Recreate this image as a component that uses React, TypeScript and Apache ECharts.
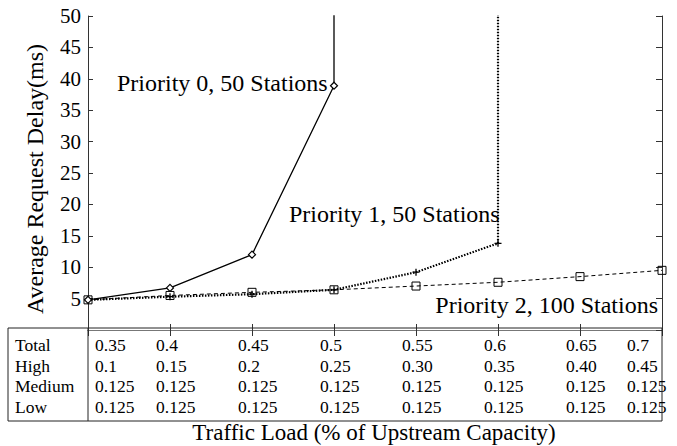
import React, { useEffect, useRef } from "react";
import * as echarts from "echarts";

const xTicks = [0.35, 0.4, 0.45, 0.5, 0.55, 0.6, 0.65, 0.7];
const p0X = [0.35, 0.4, 0.45, 0.5, 0.5];
const p0Y = [4.8, 6.7, 12.0, 38.9, 60];
const p1X = [0.35, 0.4, 0.45, 0.5, 0.55, 0.6, 0.6];
const p1Y = [4.8, 5.3, 5.7, 6.4, 9.2, 13.8, 60];
const p2X = [0.35, 0.4, 0.45, 0.5, 0.55, 0.6, 0.65, 0.7];
const p2Y = [4.8, 5.5, 6.0, 6.4, 7.0, 7.6, 8.5, 9.5];

const rowNames = ["Total", "High", "Medium", "Low"];
const totalRow = ["0.35", "0.4", "0.45", "0.5", "0.55", "0.6", "0.65", "0.7"];
const highRow = ["0.1", "0.15", "0.2", "0.25", "0.30", "0.35", "0.40", "0.45"];
const mediumRow = ["0.125", "0.125", "0.125", "0.125", "0.125", "0.125", "0.125", "0.125"];
const lowRow = ["0.125", "0.125", "0.125", "0.125", "0.125", "0.125", "0.125", "0.125"];

const seriesLabels = ["Priority 0, 50 Stations", "Priority 1, 50 Stations", "Priority 2, 100 Stations"];
const yTitle = "Average Request Delay(ms)";
const xTitle = "Traffic Load (% of Upstream Capacity)";

const FONT = '"Liberation Serif", "DejaVu Serif", serif';

export default function App() {
  const ref = useRef<HTMLDivElement>(null);
  useEffect(() => {
    const chart = echarts.init(ref.current!, null, { renderer: "svg" });
    const mk = (xs: number[], ys: number[], lastNone: boolean) =>
      xs.map((x, i) =>
        lastNone && i === xs.length - 1 ? { value: [x, ys[i]], symbol: "none" } : { value: [x, ys[i]] }
      );
    const axisLine = { show: true, lineStyle: { color: "#333", width: 1 } };
    const option: any = {
      animation: false,
      backgroundColor: "#fff",
      grid: { left: 88, right: 15, top: 16, bottom: 116 },
      xAxis: [
        {
          type: "value", min: 0.35, max: 0.7, interval: 0.05, position: "bottom",
          axisLine, axisTick: { show: true, inside: true, length: 6, lineStyle: { color: "#333" } },
          axisLabel: { show: false }, splitLine: { show: false },
        },
        {
          type: "value", min: 0.35, max: 0.7, interval: 0.05, position: "top",
          axisLine: { show: true, lineStyle: { color: "#777", width: 1 } },
          axisTick: { show: true, inside: true, length: 6, lineStyle: { color: "#333" } },
          axisLabel: { show: false }, splitLine: { show: false },
        },
      ],
      yAxis: [
        {
          type: "value", min: 0, max: 50, interval: 5, position: "left",
          axisLine, axisTick: { show: true, inside: true, length: 5, lineStyle: { color: "#333" } },
          axisLabel: { show: true, showMinLabel: false, fontFamily: FONT, fontSize: 21, color: "#000", margin: 7 },
          splitLine: { show: false },
        },
        {
          type: "value", min: 0, max: 50, interval: 5, position: "right",
          axisLine, axisTick: { show: true, inside: true, length: 6, lineStyle: { color: "#333" } },
          axisLabel: { show: false }, splitLine: { show: false },
        },
      ],
      series: [
        {
          type: "line", data: mk(p0X, p0Y, true), symbol: "diamond", symbolSize: 7,
          lineStyle: { color: "#000", width: 1.3 },
          itemStyle: { color: "#fff", borderColor: "#000", borderWidth: 1.2 }, clip: true, z: 3,
        },
        {
          type: "line", data: mk(p1X, p1Y, true), symbol: "path://M0,5L10,5M5,0L5,10", symbolSize: 7,
          lineStyle: { color: "#000", width: 2.2, type: [1.5, 1.5] },
          itemStyle: { color: "none", borderColor: "#000", borderWidth: 1.3 }, clip: true, z: 2,
        },
        {
          type: "line", data: mk(p2X, p2Y, false), symbol: "rect", symbolSize: 8,
          lineStyle: { color: "#000", width: 1, type: [4, 3] },
          itemStyle: { color: "none", borderColor: "#000", borderWidth: 1 }, clip: false, z: 2,
        },
      ],
    };
    chart.setOption(option);

    const rows = [totalRow, highRow, mediumRow, lowRow];
    const rowY = [345, 366, 386, 407];
    const graphic: any[] = [
      { type: "rect", shape: { x: 8, y: 328, width: 654, height: 93 }, style: { fill: "none", stroke: "#222", lineWidth: 1 }, z: 10 },
      { type: "line", shape: { x1: 88, y1: 328, x2: 88, y2: 421 }, style: { stroke: "#222", lineWidth: 1 }, z: 10 },
    ];
    rowNames.forEach((n, r) => {
      graphic.push({ type: "text", x: 15, y: rowY[r], style: { text: n, font: `17.5px ${FONT}`, fill: "#000", textVerticalAlign: "middle", textAlign: "left" }, z: 10 });
    });
    xTicks.forEach((t, i) => {
      const px = chart.convertToPixel({ xAxisIndex: 0 }, t) as number;
      let left = px - 14;
      if (i === 0) left = px + 7;
      if (i === xTicks.length - 1) left = px - 35;
      rows.forEach((row, r) => {
        graphic.push({ type: "text", x: left, y: rowY[r], style: { text: row[i], font: `17.5px ${FONT}`, fill: "#000", textVerticalAlign: "middle", textAlign: "left" }, z: 10 });
      });
    });
    graphic.push(
      { type: "text", x: 117, y: 83, style: { text: seriesLabels[0], font: `24px ${FONT}`, fill: "#000", textVerticalAlign: "middle" }, z: 10 },
      { type: "text", x: 289, y: 214, style: { text: seriesLabels[1], font: `24px ${FONT}`, fill: "#000", textVerticalAlign: "middle" }, z: 10 },
      { type: "text", x: 658, y: 305, style: { text: seriesLabels[2], font: `24px ${FONT}`, fill: "#000", textVerticalAlign: "middle", textAlign: "right" }, z: 10 },
      { type: "text", x: 374, y: 432, style: { text: xTitle, font: `23px ${FONT}`, fill: "#000", textVerticalAlign: "middle", textAlign: "center" }, z: 10 },
      { type: "text", x: 35, y: 179, rotation: Math.PI / 2, style: { text: yTitle, font: `24px ${FONT}`, fill: "#000", textVerticalAlign: "middle", textAlign: "center" }, z: 10 }
    );
    chart.setOption({ graphic });
    return () => chart.dispose();
  }, []);
  return <div ref={ref} style={{ width: 677, height: 446, position: "absolute", left: 0, top: 0 }} />;
}
